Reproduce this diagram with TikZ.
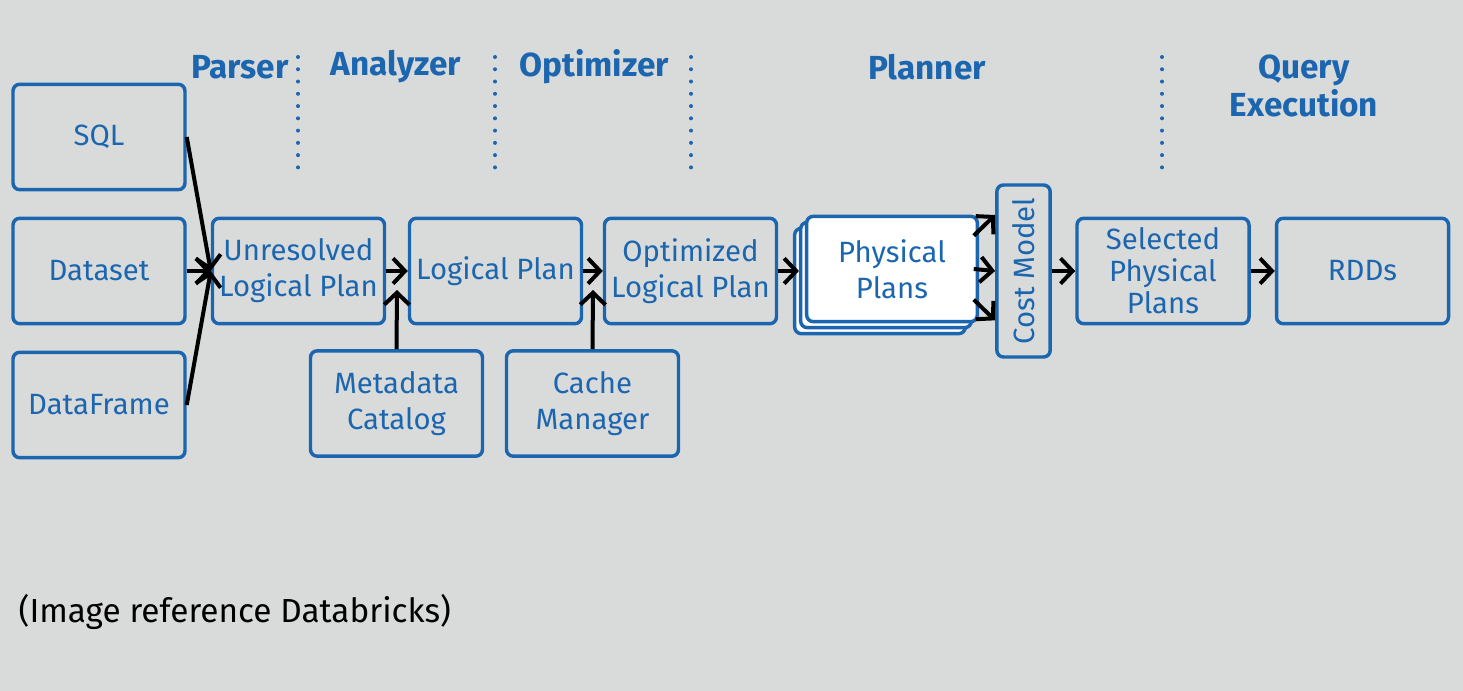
\documentclass[tikz,border=0pt]{standalone}
\usepackage{fontspec}
\setmainfont{Fira Sans}
\usetikzlibrary{arrows.meta,positioning,calc}

\definecolor{dbblue}{HTML}{1C66B0}
\definecolor{dbgrey}{HTML}{D9DBDA}

\tikzset{
  stagebox/.style={draw=dbblue, line width=2.6pt, rounded corners=5pt, text=dbblue,
    fill=dbgrey, minimum width=129pt, minimum height=79pt, align=center,
    font=\fontsize{22}{27}\selectfont, inner sep=1pt},
  phasename/.style={text=dbblue, font=\fontsize{25}{28}\selectfont\bfseries, align=center},
  phaseline/.style={dbblue, line width=3pt, line cap=round, dash pattern=on 0pt off 9.2pt},
  flow/.style={->, line width=3pt}
}

\begin{document}
\begin{tikzpicture}[x=0.75pt, y=-0.75pt, >={Straight Barb[length=9pt,width=19pt]}]
        % background and page size
        \fill[dbgrey] (0,0) rectangle (1463,691);
        \useasboundingbox (0,0) rectangle (1463,691);

        % phase headings
        \node[phasename] (parser) at (240,67) {Parser};
        \node[phasename] (analyzer) at (396,67) {Analyzer};
        \node[phasename] (optimizer) at (594,67) {Optimizer};
        \node[phasename] (planner) at (927,67) {Planner};
        \node[phasename] (execution) at (1304,86) {Query\\Execution};

        % dotted separators
        \draw[phaseline] (298,57) -- (298,170);
        \draw[phaseline] (495,57) -- (495,170);
        \draw[phaseline] (691,57) -- (691,170);
        \draw[phaseline] (1162,57) -- (1162,170);

        % inputs
        \node[stagebox] (sql) at (99,137) {SQL};
        \node[stagebox] (dataset) at (99,271) {Dataset};
        \node[stagebox] (dataframe) at (99,405) {DataFrame};

        % logical plans
        \node[stagebox] (unresolved) at (298.5,271) {Unresolved\\Logical Plan};
        \node[stagebox] (logical) at (495.5,271) {Logical Plan};
        \node[stagebox] (optimized) at (690.5,271) {Optimized\\Logical Plan};
        \node[stagebox] (metadata) at (396.5,403.5) {Metadata\\Catalog};
        \node[stagebox] (cache) at (592.5,403.5) {Cache\\Manager};

        % physical plans (stacked)
        \node[stagebox, fill=white, minimum width=128pt] (physback2) at (880,281) {};
        \node[stagebox, fill=white, minimum width=128pt] (physback1) at (886,275) {};
        \node[stagebox, fill=white, minimum width=128pt] (physical) at (892,269) {Physical\\Plans};

        % cost model
        \node[stagebox, minimum width=40pt, minimum height=129pt] (cost) at (1023.5,271) {\rotatebox{90}{Cost Model}};

        % execution
        \node[stagebox, font=\fontsize{22}{24}\selectfont] (selected) at (1163,271) {Selected\\Physical\\Plans};
        \node[stagebox] (rdds) at (1362.5,271) {RDDs};

        % arrows
        \draw[flow] (sql.east) -- (unresolved.west);
        \draw[flow] (dataset.east) -- (unresolved.west);
        \draw[flow] (dataframe.east) -- (unresolved.west);
        \draw[flow] (unresolved) -- (logical);
        \draw[flow] (logical) -- (optimized);
        \draw[flow] (optimized) -- (physback1.west |- optimized.east);
        \coordinate (catalogin) at (397,290);
        \coordinate (cachein) at (593,290);
        \draw[flow] (metadata.north) -- (catalogin);
        \draw[flow] (cache.north) -- (cachein);
        \draw[flow] ([yshift=25pt,xshift=-4pt]physical.east) -- ([yshift=42pt]cost.west);
        \draw[flow] ([xshift=-4pt]physical.east) -- (cost.west);
        \draw[flow] ([yshift=-23pt,xshift=-4pt]physical.east) -- ([yshift=-37pt]cost.west);
        \draw[flow] (cost) -- (selected);
        \draw[flow] (selected) -- (rdds);

        % caption
        \node[anchor=west, font=\fontsize{25}{28}\selectfont] (caption) at (14,612) {(Image reference Databricks)};
    \end{tikzpicture}
\end{document}
